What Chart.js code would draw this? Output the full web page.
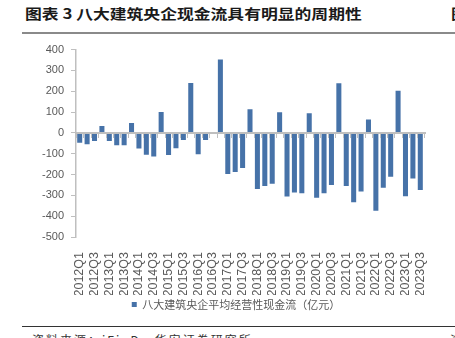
<!DOCTYPE html>
<html>
<head>
<meta charset="utf-8">
<script src="https://cdn.jsdelivr.net/npm/chart.js@4/dist/chart.umd.min.js"></script>
<style>
  html, body { margin: 0; padding: 0; background: #fff; }
  body { width: 455px; height: 338px; position: relative; overflow: hidden; }
  .title { position: absolute; left: 25px; top: 3px; font-family: "Noto Sans CJK SC", sans-serif; font-weight: bold; font-size: 14px; color: #1a1a1a; white-space: nowrap; transform: scaleX(1.2); transform-origin: 0 0; }
  .title.next { left: 451px; }
  .rule-top { position: absolute; left: 22px; right: 0; top: 32px; height: 2px; background: #8a8a8a; }
  .rule-bottom { position: absolute; left: 22px; right: 0; top: 326px; height: 1px; background: #333; }
  .source { position: absolute; left: 32px; top: 331px; font-family: "Noto Sans CJK SC", sans-serif; font-size: 12px; letter-spacing: 2px; color: #333; white-space: nowrap; }
  .source.next { left: 450px; }
  #c { position: absolute; left: 0; top: 36px; }
</style>
</head>
<body>
<div class="title">图表 3 八大建筑央企现金流具有明显的周期性</div>
<div class="title next">图表 4</div>
<div class="rule-top"></div>
<canvas id="c" width="455" height="284"></canvas>
<div class="rule-bottom"></div>
<div class="source">资料来源：iFinD，华安证券研究所</div>
<div class="source next">资料来源</div>
<script>
// Quarter labels, 2012Q1 – 2023Q3
const quarters = [
  '2012Q1','2012Q2','2012Q3','2012Q4',
  '2013Q1','2013Q2','2013Q3','2013Q4',
  '2014Q1','2014Q2','2014Q3','2014Q4',
  '2015Q1','2015Q2','2015Q3','2015Q4',
  '2016Q1','2016Q2','2016Q3','2016Q4',
  '2017Q1','2017Q2','2017Q3','2017Q4',
  '2018Q1','2018Q2','2018Q3','2018Q4',
  '2019Q1','2019Q2','2019Q3','2019Q4',
  '2020Q1','2020Q2','2020Q3','2020Q4',
  '2021Q1','2021Q2','2021Q3','2021Q4',
  '2022Q1','2022Q2','2022Q3','2022Q4',
  '2023Q1','2023Q2','2023Q3'
];

// Average operating cash flow of the eight central construction SOEs (100 million yuan)
const cashFlow = [
  -47, -55, -39, 33,
  -39, -59, -59, 47,
  -75, -105, -113, 100,
  -106, -74, -34, 239,
  -102, -34, -3, 353,
  -197, -188, -169, 113,
  -269, -255, -244, 99,
  -305, -286, -290, 94,
  -311, -290, -250, 238,
  -255, -333, -282, 64,
  -374, -264, -211, 202,
  -304, -219, -274
];

const seriesName = '八大建筑央企平均经营性现金流（亿元）';
const yMin = -500, yMax = 400, yStep = 100;

const axisGray = '#bfbfbf';
const labelGray = '#595959';

// Zero baseline with small category ticks, drawn above the bars
const zeroAxis = {
  id: 'zeroAxis',
  afterDatasetsDraw(chart) {
    const { ctx, chartArea, scales: { x, y } } = chart;
    const y0 = Math.round(y.getPixelForValue(0));
    ctx.save();
    ctx.strokeStyle = axisGray;
    ctx.lineWidth = 2;
    ctx.beginPath();
    ctx.moveTo(chartArea.left, y0);
    ctx.lineTo(chartArea.right + 2, y0);
    ctx.stroke();
    ctx.lineWidth = 1;
    ctx.beginPath();
    const step = x.getPixelForValue(1) - x.getPixelForValue(0);
    for (let i = 0; i <= quarters.length; i++) {
      const px = Math.round(x.getPixelForValue(0) - step / 2 + i * step) + 0.5;
      ctx.moveTo(px, y0);
      ctx.lineTo(px, y0 + 5);
    }
    ctx.stroke();
    ctx.restore();
  }
};

// Centre the legend under the plot rather than the full canvas width
const legendShift = {
  id: 'legendShift',
  afterLayout(chart) {
    const lg = chart.legend;
    if (!lg) return;
    const target = 236;
    const dx = target - (lg.left + lg.right) / 2;
    lg.left += dx;
    lg.right += dx;
  }
};

Chart.defaults.font.family = "'Liberation Sans', Arial, sans-serif";

new Chart(document.getElementById('c'), {
  type: 'bar',
  data: {
    labels: quarters,
    datasets: [{
      label: seriesName,
      data: cashFlow,
      backgroundColor: '#4672a8',
      borderWidth: 0,
      barPercentage: 0.68,
      categoryPercentage: 1.0
    }]
  },
  options: {
    responsive: false,
    devicePixelRatio: 1,
    animation: false,
    layout: { padding: { left: 0, right: 31, top: 9, bottom: 0 } },
    plugins: {
      tooltip: { enabled: false },
      legend: {
        display: true,
        position: 'bottom',
        labels: {
          boxWidth: 5,
          boxHeight: 5,
          padding: 4,
          color: labelGray,
          font: { family: "'Noto Sans CJK SC', sans-serif", size: 11 }
        }
      }
    },
    scales: {
      x: {
        grid: { display: false },
        border: { display: false },
        ticks: {
          autoSkip: false,
          maxRotation: 90,
          minRotation: 90,
          padding: 7,
          color: labelGray,
          font: { size: 12.5 },
          callback: (v, i) => (i % 2 === 0 ? quarters[i] : '')
        },
        afterFit: (s) => { s.height = 58; }
      },
      y: {
        min: yMin,
        max: yMax,
        ticks: {
          stepSize: yStep,
          padding: 7,
          color: labelGray,
          font: { size: 11 }
        },
        grid: {
          drawOnChartArea: false,
          drawTicks: true,
          tickLength: 5,
          tickColor: axisGray
        },
        border: { display: true, color: axisGray, width: 1.5 },
        afterFit: (s) => { s.width = 76; }
      }
    }
  },
  plugins: [zeroAxis, legendShift]
});
</script>
</body>
</html>
